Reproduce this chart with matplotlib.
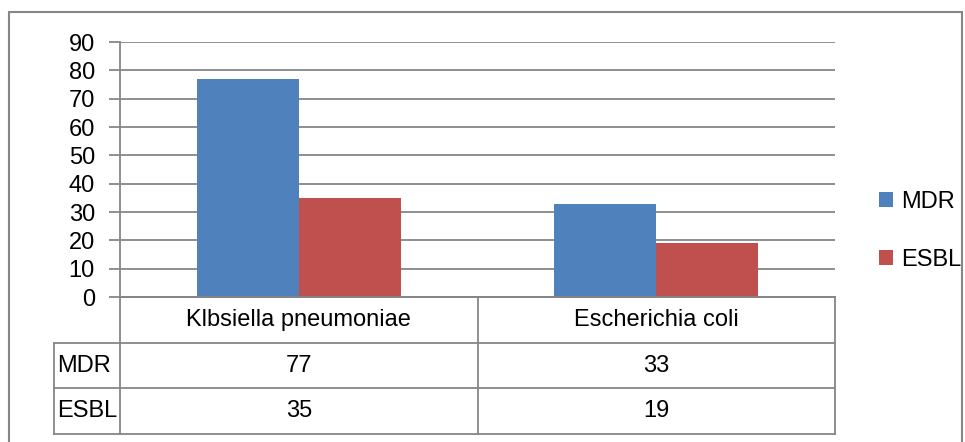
import matplotlib.pyplot as plt
from matplotlib.patches import Rectangle

plt.rcParams['font.family'] = ['Liberation Sans', 'DejaVu Sans']

categories = ['Klbsiella pneumoniae', 'Escherichia coli']
series_names = ['MDR', 'ESBL']
mdr = [77, 33]
esbl = [35, 19]
yticks = [0, 10, 20, 30, 40, 50, 60, 70, 80, 90]

colors = ['#4F81BD', '#C0504D']
line_col = '#868686'
fs = 17

fig = plt.figure(figsize=(9.65, 4.42), dpi=100)
W, H = 965, 442

# outer chart border (bottom edge runs off the canvas)
fig.add_artist(Rectangle((9 / W, -0.05), (962 - 9) / W, 1.05 - 12 / H, transform=fig.transFigure,
                         fill=False, edgecolor=line_col, linewidth=1.5))

left, right = 120 / W, 835 / W
ax = fig.add_axes([left, 1 - 297 / H, right - left, (297 - 42) / H])

x = [0, 1]
bw = 0.285
ax.bar([i - bw / 2 for i in x], mdr, width=bw, color=colors[0], label=series_names[0], zorder=3)
ax.bar([i + bw / 2 for i in x], esbl, width=bw, color=colors[1], label=series_names[1], zorder=3)

ax.set_xlim(-0.5, 1.5)
ax.set_ylim(0, 90)
ax.set_yticks(yticks)
ax.set_yticklabels([str(t) for t in yticks], fontsize=fs)
ax.set_xticks([])
ax.grid(axis='y', color=line_col, linewidth=1.3, zorder=0)
ax.tick_params(axis='y', length=8, width=1.3, color=line_col, pad=10)
for s in ['top', 'right']:
    ax.spines[s].set_visible(False)
for s in ['left', 'bottom']:
    ax.spines[s].set_color(line_col)
    ax.spines[s].set_linewidth(1.3)

# data table under the bars
tab = fig.add_axes([left, 1 - 434 / H, right - left, (434 - 297) / H])
tab.set_xlim(-0.5, 1.5)
tab.set_ylim(0, 3)
tab.axis('off')
lab_x0 = -0.5 - (120 - 54) / 357.5
kw = dict(color=line_col, linewidth=1.3, clip_on=False)
tab.plot([-0.5, 1.5], [3, 3], **kw)
tab.plot([lab_x0, 1.5], [2, 2], **kw)
tab.plot([lab_x0, 1.5], [1, 1], **kw)
tab.plot([lab_x0, 1.5], [0, 0], **kw)
tab.plot([lab_x0, lab_x0], [0, 2], **kw)
tab.plot([-0.5, -0.5], [0, 3], **kw)
tab.plot([0.5, 0.5], [0, 3], **kw)
tab.plot([1.5, 1.5], [0, 3], **kw)

for i, c in enumerate(categories):
    tab.text(x[i], 2.5, c, ha='center', va='center', fontsize=fs)
for r, (name, vals) in enumerate(zip(series_names, [mdr, esbl])):
    yc = 1.5 - r
    tab.text(lab_x0 + 0.01, yc, name, ha='left', va='center', fontsize=fs)
    for i, v in enumerate(vals):
        tab.text(x[i], yc, str(v), ha='center', va='center', fontsize=fs)

fig.legend(loc='center left', bbox_to_anchor=(879 / W, 1 - 231 / H), frameon=False,
           fontsize=fs, handlelength=0.6, handleheight=0.6, handletextpad=0.35,
           labelspacing=1.5, borderpad=0, borderaxespad=0)

fig.savefig('out.png', dpi=100)
